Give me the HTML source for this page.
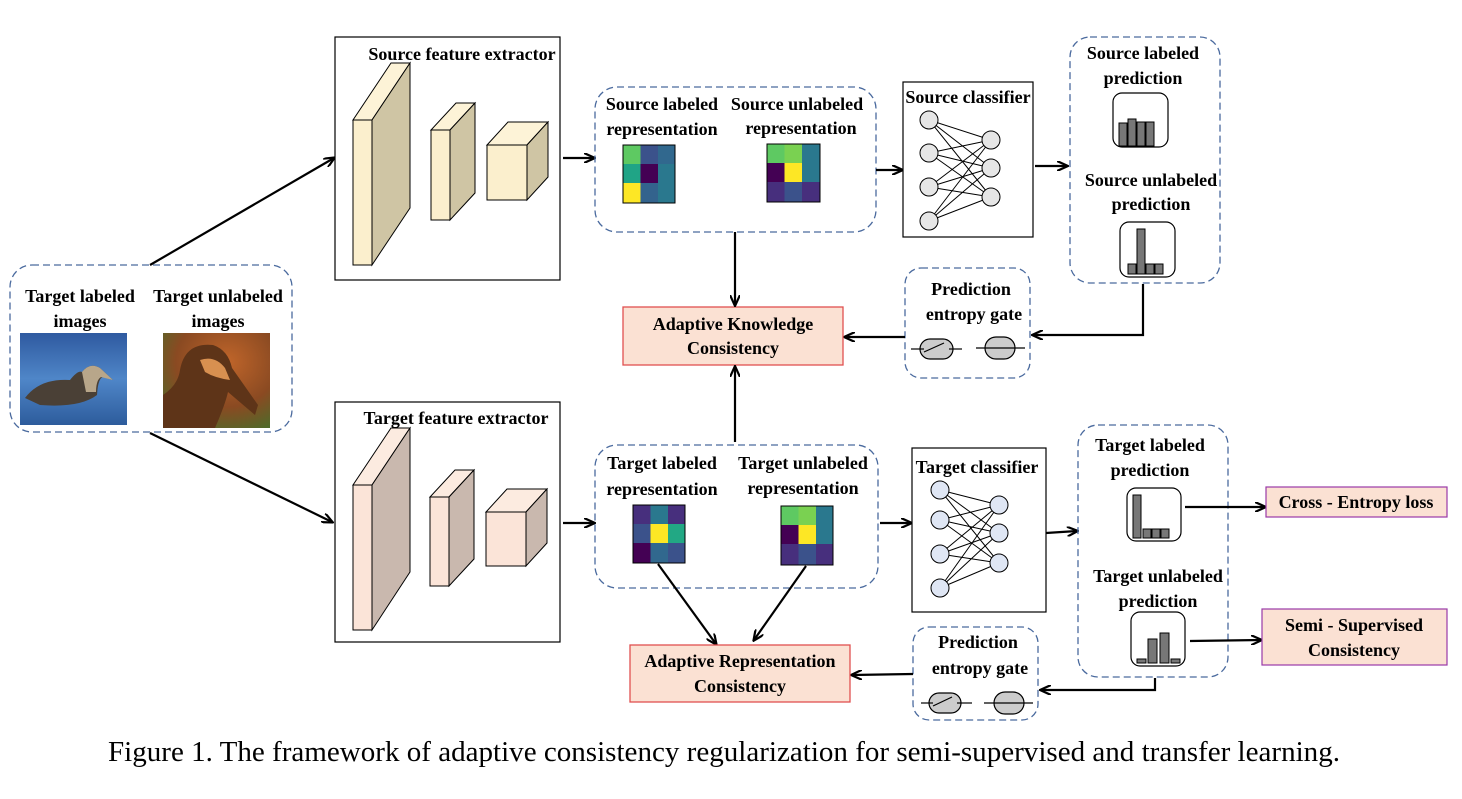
<!DOCTYPE html>
<html><head><meta charset="utf-8"><style>
html,body{margin:0;padding:0;background:#fff;}
svg{display:block;}
text{font-family:"Liberation Serif",serif;font-weight:bold;font-size:18px;fill:#000;}
.cap{font-weight:normal;font-size:29px;}
.dash{fill:none;stroke:#4a6a9e;stroke-width:1.3;stroke-dasharray:7,4;}
.ln{stroke:#000;stroke-width:2.2;fill:none;}
.thin{stroke:#000;stroke-width:1;fill:none;}
.node{fill:#e6e6e6;stroke:#000;stroke-width:1;}
.nodeb{fill:#dfe6f4;stroke:#000;stroke-width:1;}
.bar{fill:#777;stroke:#000;stroke-width:1;}
</style></head><body>
<svg width="1462" height="799" viewBox="0 0 1462 799" xmlns="http://www.w3.org/2000/svg">
<defs>
<marker id="ah" markerWidth="12" markerHeight="10" refX="10" refY="5" orient="auto" markerUnits="userSpaceOnUse">
<path d="M0,0 L11,5 L0,10" fill="none" stroke="#000" stroke-width="2.2"/>
</marker>
<linearGradient id="water" x1="0" y1="0" x2="0" y2="1"><stop offset="0" stop-color="#2f5aa0"/><stop offset="0.5" stop-color="#4f86c8"/><stop offset="1" stop-color="#2d5c9c"/></linearGradient>
<radialGradient id="bg2" cx="0.6" cy="0.3" r="0.8"><stop offset="0" stop-color="#c0652a"/><stop offset="0.6" stop-color="#8a4a22"/><stop offset="1" stop-color="#4d6b2a"/></radialGradient>
</defs>

<rect x="10" y="265" width="282" height="167" rx="22" class="dash"/>
<text x="80" y="302" text-anchor="middle">Target labeled</text>
<text x="80" y="327" text-anchor="middle">images</text>
<text x="218" y="302" text-anchor="middle">Target unlabeled</text>
<text x="218" y="327" text-anchor="middle">images</text>
<rect x="20" y="333" width="107" height="92" fill="url(#water)"/>
<path d="M25,398 Q40,378 70,380 Q78,370 82,372 Q90,362 100,368 L113,380 L103,377 Q98,378 97,395 Q80,408 40,405 Z" fill="#4a4036"/>
<path d="M82,372 Q90,362 100,368 L113,380 L101,377 Q96,380 96,392 L86,392 Z" fill="#b8a68a"/>
<rect x="163" y="333" width="107" height="95" fill="url(#bg2)"/>
<path d="M163,428 L163,395 Q178,385 180,370 Q185,342 213,345 Q228,350 232,368 L258,405 L255,415 L228,392 Q225,405 215,428 Z" fill="#5e3418"/>
<path d="M200,360 Q215,355 225,368 L230,380 Q215,378 205,372 Z" fill="#d89050"/>

<line x1="150" y1="265" x2="334" y2="158" class="ln" marker-end="url(#ah)"/>
<line x1="150" y1="433" x2="332" y2="522" class="ln" marker-end="url(#ah)"/>

<rect x="335" y="37" width="225" height="243" fill="#fff" stroke="#000" stroke-width="1.2"/>
<text x="462" y="60" text-anchor="middle">Source feature extractor</text>
<g stroke="#000" stroke-width="1">
<polygon points="353,120 372,120 410,63 391,63" fill="#fdf3d7"/>
<polygon points="372,120 410,63 410,208 372,265" fill="#cfc5a4"/>
<rect x="353" y="120" width="19" height="145" fill="#fbefcd"/>
<polygon points="431,130 450,130 475,103 456,103" fill="#fdf3d7"/>
<polygon points="450,130 475,103 475,193 450,220" fill="#cfc5a4"/>
<rect x="431" y="130" width="19" height="90" fill="#fbefcd"/>
<polygon points="487,145 527,145 548,122 508,122" fill="#fdf3d7"/>
<polygon points="527,145 548,122 548,177 527,200" fill="#cfc5a4"/>
<rect x="487" y="145" width="40" height="55" fill="#fbefcd"/>
</g>

<rect x="335" y="402" width="225" height="240" fill="#fff" stroke="#000" stroke-width="1.2"/>
<text x="456" y="424" text-anchor="middle">Target feature extractor</text>
<g stroke="#000" stroke-width="1">
<polygon points="353,485 372,485 410,428 391,428" fill="#fcebe0"/>
<polygon points="372,485 410,428 410,572 372,630" fill="#c9b8ae"/>
<rect x="353" y="485" width="19" height="145" fill="#fbe4d8"/>
<polygon points="430,497 449,497 474,470 455,470" fill="#fcebe0"/>
<polygon points="449,497 474,470 474,559 449,586" fill="#c9b8ae"/>
<rect x="430" y="497" width="19" height="89" fill="#fbe4d8"/>
<polygon points="486,512 526,512 547,489 507,489" fill="#fcebe0"/>
<polygon points="526,512 547,489 547,543 526,566" fill="#c9b8ae"/>
<rect x="486" y="512" width="40" height="54" fill="#fbe4d8"/>
</g>

<line x1="563" y1="158" x2="594" y2="158" class="ln" marker-end="url(#ah)"/>
<line x1="563" y1="523" x2="594" y2="523" class="ln" marker-end="url(#ah)"/>

<rect x="595" y="87" width="281" height="145" rx="22" class="dash"/>
<text x="662" y="110" text-anchor="middle">Source labeled</text>
<text x="662" y="135" text-anchor="middle">representation</text>
<text x="797" y="110" text-anchor="middle">Source unlabeled</text>
<text x="801" y="134" text-anchor="middle">representation</text>
<g stroke="none">
<rect x="623" y="145" width="17.5" height="19" fill="#5ec962"/><rect x="640.5" y="145" width="17.5" height="19" fill="#3b528b"/><rect x="658" y="145" width="17" height="19" fill="#31688e"/>
<rect x="623" y="164" width="17.5" height="19" fill="#20a486"/><rect x="640.5" y="164" width="17.5" height="19" fill="#440154"/><rect x="658" y="164" width="17" height="19" fill="#2a788e"/>
<rect x="623" y="183" width="17.5" height="20" fill="#fde725"/><rect x="640.5" y="183" width="17.5" height="20" fill="#33638d"/><rect x="658" y="183" width="17" height="20" fill="#2a788e"/>
<rect x="767" y="144" width="17.5" height="19" fill="#5ec962"/><rect x="784.5" y="144" width="17.5" height="19" fill="#7ad151"/><rect x="802" y="144" width="18" height="19" fill="#2a788e"/>
<rect x="767" y="163" width="17.5" height="19" fill="#440154"/><rect x="784.5" y="163" width="17.5" height="19" fill="#fde725"/><rect x="802" y="163" width="18" height="19" fill="#2a788e"/>
<rect x="767" y="182" width="17.5" height="20" fill="#472f7d"/><rect x="784.5" y="182" width="17.5" height="20" fill="#3b528b"/><rect x="802" y="182" width="18" height="20" fill="#472f7d"/>
</g>
<rect x="623" y="145" width="52" height="58" class="thin"/>
<rect x="767" y="144" width="53" height="58" class="thin"/>

<line x1="876" y1="170" x2="902" y2="170" class="ln" marker-end="url(#ah)"/>

<rect x="903" y="82" width="130" height="155" fill="#fff" stroke="#000" stroke-width="1.2"/>
<text x="968" y="103" text-anchor="middle">Source classifier</text>
<g class="thin">
<path d="M929,120 L991,140 M929,120 L991,168 M929,120 L991,197 M929,153 L991,140 M929,153 L991,168 M929,153 L991,197 M929,187 L991,140 M929,187 L991,168 M929,187 L991,197 M929,221 L991,140 M929,221 L991,168 M929,221 L991,197"/>
</g>
<circle cx="929" cy="120" r="9" class="node"/><circle cx="929" cy="153" r="9" class="node"/><circle cx="929" cy="187" r="9" class="node"/><circle cx="929" cy="221" r="9" class="node"/>
<circle cx="991" cy="140" r="9" class="node"/><circle cx="991" cy="168" r="9" class="node"/><circle cx="991" cy="197" r="9" class="node"/>

<line x1="1035" y1="166" x2="1067" y2="166" class="ln" marker-end="url(#ah)"/>

<rect x="1070" y="37" width="150" height="246" rx="20" class="dash"/>
<text x="1143" y="59" text-anchor="middle">Source labeled</text>
<text x="1143" y="84" text-anchor="middle">prediction</text>
<rect x="1113" y="93" width="55" height="54" rx="9" fill="#fff" stroke="#000" stroke-width="1.2"/>
<rect x="1119" y="123" width="8" height="23" class="bar"/><rect x="1128" y="119" width="8" height="27" class="bar"/><rect x="1137" y="122" width="8" height="24" class="bar"/><rect x="1146" y="122" width="8" height="24" class="bar"/>
<text x="1151" y="186" text-anchor="middle">Source unlabeled</text>
<text x="1151" y="210" text-anchor="middle">prediction</text>
<rect x="1120" y="222" width="55" height="55" rx="9" fill="#fff" stroke="#000" stroke-width="1.2"/>
<rect x="1128" y="264" width="8" height="10" class="bar"/><rect x="1137" y="229" width="8" height="45" class="bar"/><rect x="1146" y="264" width="8" height="10" class="bar"/><rect x="1155" y="264" width="8" height="10" class="bar"/>

<polyline points="1143,284 1143,335 1033,335" class="ln" marker-end="url(#ah)"/>

<rect x="905" y="268" width="125" height="110" rx="16" class="dash"/>
<text x="971" y="295" text-anchor="middle">Prediction</text>
<text x="974" y="320" text-anchor="middle">entropy gate</text>
<g stroke="#000" stroke-width="1.2">
<rect x="920" y="339" width="33" height="20" rx="10" fill="#ccc"/>
<line x1="911" y1="349" x2="924" y2="349"/>
<line x1="949" y1="349" x2="962" y2="349"/>
<line x1="924" y1="352" x2="944" y2="343"/>
<rect x="985" y="337" width="30" height="22" rx="11" fill="#ccc"/>
<line x1="976" y1="348" x2="1025" y2="348"/>
</g>

<line x1="905" y1="337" x2="845" y2="337" class="ln" marker-end="url(#ah)"/>

<rect x="623" y="307" width="220" height="58" fill="#fbe1d3" stroke="#e05050" stroke-width="1.3"/>
<text x="733" y="330" text-anchor="middle">Adaptive Knowledge</text>
<text x="733" y="354" text-anchor="middle">Consistency</text>
<line x1="735" y1="232" x2="735" y2="305" class="ln" marker-end="url(#ah)"/>
<line x1="735" y1="442" x2="735" y2="367" class="ln" marker-end="url(#ah)"/>

<rect x="595" y="445" width="283" height="143" rx="22" class="dash"/>
<text x="662" y="469" text-anchor="middle">Target labeled</text>
<text x="662" y="495" text-anchor="middle">representation</text>
<text x="803" y="469" text-anchor="middle">Target unlabeled</text>
<text x="803" y="494" text-anchor="middle">representation</text>
<g stroke="none">
<rect x="633" y="505" width="17.5" height="19" fill="#472f7d"/><rect x="650.5" y="505" width="17.5" height="19" fill="#2a788e"/><rect x="668" y="505" width="17" height="19" fill="#472f7d"/>
<rect x="633" y="524" width="17.5" height="19" fill="#3b528b"/><rect x="650.5" y="524" width="17.5" height="19" fill="#fde725"/><rect x="668" y="524" width="17" height="19" fill="#22a884"/>
<rect x="633" y="543" width="17.5" height="20" fill="#440154"/><rect x="650.5" y="543" width="17.5" height="20" fill="#31688e"/><rect x="668" y="543" width="17" height="20" fill="#3b528b"/>
<rect x="781" y="506" width="17.5" height="19" fill="#5ec962"/><rect x="798.5" y="506" width="17.5" height="19" fill="#7ad151"/><rect x="816" y="506" width="17" height="19" fill="#2a788e"/>
<rect x="781" y="525" width="17.5" height="19" fill="#440154"/><rect x="798.5" y="525" width="17.5" height="19" fill="#fde725"/><rect x="816" y="525" width="17" height="19" fill="#2a788e"/>
<rect x="781" y="544" width="17.5" height="21" fill="#472f7d"/><rect x="798.5" y="544" width="17.5" height="21" fill="#3b528b"/><rect x="816" y="544" width="17" height="21" fill="#472f7d"/>
</g>
<rect x="633" y="505" width="52" height="58" class="thin"/>
<rect x="781" y="506" width="52" height="59" class="thin"/>
<line x1="658" y1="564" x2="716" y2="644" class="ln" marker-end="url(#ah)"/>
<line x1="806" y1="566" x2="754" y2="640" class="ln" marker-end="url(#ah)"/>

<line x1="880" y1="523" x2="911" y2="523" class="ln" marker-end="url(#ah)"/>

<rect x="912" y="448" width="134" height="164" fill="#fff" stroke="#000" stroke-width="1.2"/>
<text x="977" y="473" text-anchor="middle">Target classifier</text>
<g class="thin">
<path d="M940,490 L999,505 M940,490 L999,533 M940,490 L999,563 M940,520 L999,505 M940,520 L999,533 M940,520 L999,563 M940,554 L999,505 M940,554 L999,533 M940,554 L999,563 M940,588 L999,505 M940,588 L999,533 M940,588 L999,563"/>
</g>
<circle cx="940" cy="490" r="9" class="nodeb"/><circle cx="940" cy="520" r="9" class="nodeb"/><circle cx="940" cy="554" r="9" class="nodeb"/><circle cx="940" cy="588" r="9" class="nodeb"/>
<circle cx="999" cy="505" r="9" class="nodeb"/><circle cx="999" cy="533" r="9" class="nodeb"/><circle cx="999" cy="563" r="9" class="nodeb"/>

<line x1="1046" y1="533" x2="1077" y2="531" class="ln" marker-end="url(#ah)"/>

<rect x="1078" y="425" width="150" height="252" rx="20" class="dash"/>
<text x="1150" y="451" text-anchor="middle">Target labeled</text>
<text x="1150" y="476" text-anchor="middle">prediction</text>
<rect x="1127" y="488" width="54" height="53" rx="9" fill="#fff" stroke="#000" stroke-width="1.2"/>
<rect x="1133" y="495" width="8" height="43" class="bar"/><rect x="1143" y="529" width="8" height="9" class="bar"/><rect x="1152" y="529" width="8" height="9" class="bar"/><rect x="1161" y="529" width="8" height="9" class="bar"/>
<text x="1158" y="582" text-anchor="middle">Target unlabeled</text>
<text x="1158" y="607" text-anchor="middle">prediction</text>
<rect x="1131" y="612" width="54" height="54" rx="9" fill="#fff" stroke="#000" stroke-width="1.2"/>
<rect x="1137" y="659" width="9" height="4" class="bar"/><rect x="1148" y="639" width="9" height="24" class="bar"/><rect x="1160" y="633" width="9" height="30" class="bar"/><rect x="1171" y="659" width="9" height="4" class="bar"/>

<line x1="1185" y1="507" x2="1265" y2="507" class="ln" marker-end="url(#ah)"/>
<rect x="1266" y="487" width="181" height="30" fill="#fbe1d3" stroke="#9a3aa8" stroke-width="1.2"/>
<text x="1356" y="508" text-anchor="middle">Cross - Entropy loss</text>

<line x1="1190" y1="641" x2="1261" y2="640" class="ln" marker-end="url(#ah)"/>
<rect x="1262" y="609" width="185" height="56" fill="#fbe1d3" stroke="#9a3aa8" stroke-width="1.2"/>
<text x="1354" y="631" text-anchor="middle">Semi - Supervised</text>
<text x="1354" y="656" text-anchor="middle">Consistency</text>

<polyline points="1155,678 1155,690 1041,690" class="ln" marker-end="url(#ah)"/>

<rect x="913" y="627" width="125" height="93" rx="16" class="dash"/>
<text x="978" y="648" text-anchor="middle">Prediction</text>
<text x="980" y="674" text-anchor="middle">entropy gate</text>
<g stroke="#000" stroke-width="1.2">
<rect x="929" y="693" width="32" height="20" rx="10" fill="#ccc"/>
<line x1="921" y1="703" x2="933" y2="703"/>
<line x1="957" y1="703" x2="972" y2="703"/>
<line x1="933" y1="706" x2="952" y2="697"/>
<rect x="994" y="692" width="30" height="22" rx="11" fill="#ccc"/>
<line x1="984" y1="703" x2="1033" y2="703"/>
</g>

<line x1="913" y1="674" x2="852" y2="675" class="ln" marker-end="url(#ah)"/>

<rect x="630" y="645" width="220" height="57" fill="#fbe1d3" stroke="#e05050" stroke-width="1.3"/>
<text x="740" y="667" text-anchor="middle">Adaptive Representation</text>
<text x="740" y="692" text-anchor="middle">Consistency</text>

<text x="724" y="761" text-anchor="middle" class="cap" textLength="1232" lengthAdjust="spacingAndGlyphs">Figure 1. The framework of adaptive consistency regularization for semi-supervised and transfer learning.</text>
</svg>
</body></html>
